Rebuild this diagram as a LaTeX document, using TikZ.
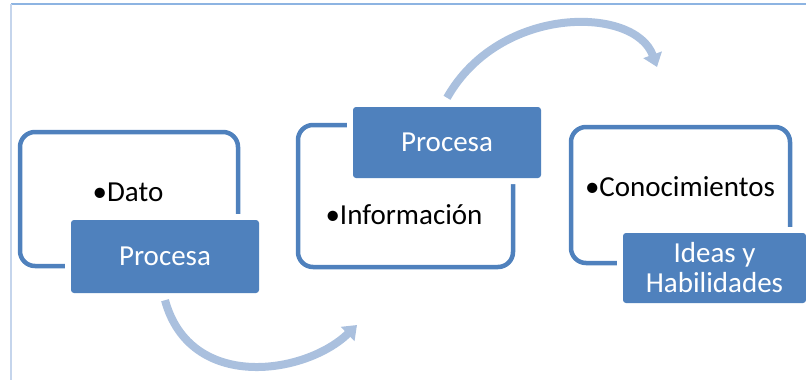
\documentclass[tikz,border=0pt]{standalone}
\usepackage{fontspec}
\setmainfont{Carlito}
\usepackage{tikz}
\usetikzlibrary{positioning,arrows.meta}
\definecolor{boxblue}{RGB}{79,129,189}
\definecolor{flowblue}{RGB}{170,192,222}
\definecolor{topblue}{RGB}{141,180,226}
\definecolor{sideblue}{RGB}{197,213,236}

\begin{document}
\begin{tikzpicture}[x=1pt, y=-1pt, font=\fontsize{29}{30}\selectfont,
  frame/.style={draw=boxblue, line width=4.5pt, rounded corners=15pt},
  proc/.style={fill=boxblue, text=white, rounded corners=3pt, align=center,
    preaction={draw=white, line width=12pt}},
  flow/.style={draw=flowblue, line width=8pt, -{Triangle[width=19pt,length=13pt]}}]
\useasboundingbox (0,0) rectangle (806,380);
\draw[topblue, line width=1.5pt] (11,4) -- (806,4);
\draw[sideblue, line width=1.5pt] (11,4) -- (11,380);

\node[frame, minimum width=218pt, minimum height=134pt] (f1) at (129,199) {};
\node[frame, minimum width=215pt, minimum height=142pt] (f2) at (405.5,196) {};
\node[frame, minimum width=219pt, minimum height=136pt] (f3) at (680.5,195) {};

\node (t1) at (128,192) {•Dato};
\node (t2) at (404,215) {•Información};
\node (t3) at (680,187) {•Conocimientos};

\node[proc, minimum width=188pt, minimum height=73pt] (p1) at (165,256.5) {Procesa};
\node[proc, minimum width=188pt, minimum height=71pt] (p2) at (447,142.5) {Procesa};
\node[proc, minimum width=183pt, minimum height=70pt] (p3) at (714.5,268) {Ideas y\\Habilidades};

\coordinate (a1) at (357,325);
\coordinate (a2) at (657,67);
\draw[flow] ([yshift=-7pt]p1.south) .. controls (190,392) and (305,375) .. (a1);
\draw[flow] ([yshift=9pt]p2.north) .. controls (500,4) and (635,6) .. (a2);
\end{tikzpicture}
\end{document}
